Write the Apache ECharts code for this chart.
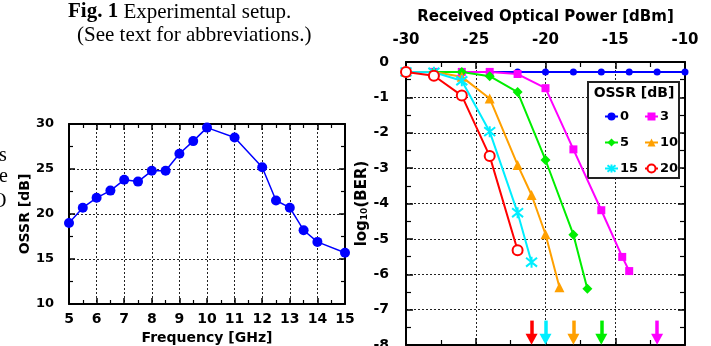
<!DOCTYPE html>
<html><head><meta charset="utf-8">
<script src="https://cdn.jsdelivr.net/npm/echarts@6/dist/echarts.min.js"></script>
<style>html,body{margin:0;padding:0;background:#fff}#c{width:711px;height:346px}</style>
</head><body><div id="c"></div>
<script>
// ---- Left chart data ----
const freqGHz = [5, 5.5, 6, 6.5, 7, 7.5, 8, 8.5, 9, 9.5, 10, 11, 12, 12.5, 13, 13.5, 14, 15];
const ossrDb  = [19.0, 20.7, 21.8, 22.6, 23.8, 23.6, 24.8, 24.8, 26.7, 28.1, 29.6, 28.5, 25.2, 21.5, 20.7, 18.2, 16.9, 15.7];
const freqTicks = [5, 6, 7, 8, 9, 10, 11, 12, 13, 14, 15];
const ossrTicks = [10, 15, 20, 25, 30];

// ---- Right chart data ----
const ossrLevels = ['0', '3', '5', '10', '15', '20'];
const power0  = [-30, -28, -26, -24, -22, -20, -18, -16, -14, -12, -10];
const ber0    = [-0.28, -0.28, -0.28, -0.28, -0.28, -0.28, -0.28, -0.28, -0.28, -0.28, -0.28];
const power3  = [-30, -28, -26, -24, -22, -20, -18, -16, -14.5, -14];
const ber3    = [-0.28, -0.28, -0.28, -0.28, -0.34, -0.74, -2.47, -4.19, -5.51, -5.91];
const power5  = [-30, -28, -26, -24, -22, -20, -18, -17];
const ber5    = [-0.28, -0.28, -0.28, -0.40, -0.85, -2.77, -4.88, -6.41];
const power10 = [-30, -28, -26, -24, -22, -21, -20, -19];
const ber10   = [-0.28, -0.28, -0.42, -1.03, -2.91, -3.76, -4.87, -6.37];
const power15 = [-30, -28, -26, -24, -22, -21];
const ber15   = [-0.28, -0.29, -0.53, -1.97, -4.26, -5.66];
const power20 = [-30, -28, -26, -24, -22];
const ber20   = [-0.28, -0.39, -0.95, -2.66, -5.32];
const powerTicks = [-30, -25, -20, -15, -10];
const berTicks = [-8, -7, -6, -5, -4, -3, -2, -1, 0];
// error-floor-free sensitivity arrows (received power, dBm) per OSSR level
const arrowLevel = ['20', '15', '10', '5', '3'];
const arrowPower = [-21, -20, -18, -16, -12];
const arrowFrom = -7.31, arrowTo = -7.84;

const SANS = 'DejaVu Sans';
const colors = {'0':'#0000ff','3':'#ff00ff','5':'#00ee00','10':'#ffa000','15':'#00eeff','20':'#ff0000'};
const symbols = {'0':'circle','3':'rect','5':'diamond','10':'triangle','15':'path://M1,1L9,9M9,1L1,9M5,0L5,10','20':'emptyCircle'};
const symSizes = {'0':7,'3':8,'5':10,'10':10,'15':11,'20':10};
const rightData = {'0':[power0,ber0],'3':[power3,ber3],'5':[power5,ber5],'10':[power10,ber10],'15':[power15,ber15],'20':[power20,ber20]};

function zip(a, b) { return a.map((v, i) => [v, b[i]]); }

const frame = {show:true, onZero:false, lineStyle:{color:'#000', width:2}};
const gridLine = {show:true, lineStyle:{color:'#222', width:1, type:[2,2]}};

function axis(o) {
  return Object.assign({
    type:'value', axisLine: frame,
    axisTick:{show:true, inside:true, length:6, lineStyle:{color:'#000', width:1.5}},
    minorTick:{show:true, splitNumber:2, length:4, lineStyle:{color:'#000', width:1.2}},
    splitLine:{show:false}
  }, o);
}
const hidden = {show:false};

const chart = echarts.init(document.getElementById('c'), null, {renderer:'canvas'});

const series = [{
  type:'line', xAxisIndex:0, yAxisIndex:0, data: zip(freqGHz, ossrDb),
  symbol:'circle', symbolSize:10, color:'#0000ff',
  lineStyle:{width:1.5, color:'#0000ff'}, itemStyle:{color:'#0000ff'}
}];
ossrLevels.forEach(k => {
  const c = colors[k];
  const s = {
    name:k, type:'line', xAxisIndex:2, yAxisIndex:2,
    data: zip(rightData[k][0], rightData[k][1]),
    symbol: symbols[k], symbolSize: symSizes[k],
    lineStyle:{width:2, color:c},
    itemStyle:{color: c, borderColor: c, borderWidth: (k==='15'||k==='20') ? 2 : 0}
  };
  const idx = arrowLevel.indexOf(k);
  if (idx >= 0) {
    s.markLine = {
      silent:true, animation:false, symbol:['none','triangle'], symbolSize:[12,11],
      label:{show:false}, lineStyle:{color:c, width:3.5, type:'solid'},
      data:[[{coord:[arrowPower[idx], arrowFrom]}, {coord:[arrowPower[idx], arrowTo]}]]
    };
  }
  series.push(s);
});

const legendCommon = {
  orient:'vertical', itemWidth:13, itemHeight:10, itemGap:13,
  textStyle:{fontFamily:SANS, fontWeight:'bold', fontSize:13, color:'#000', padding:[0,0,0,-3]},
  z:6
};

chart.setOption({
  animation:false,
  backgroundColor:'#fff',
  grid:[
    {left:69, top:124, right:366, bottom:42, outerBoundsMode:'none', containLabel:false},
    {left:406, top:62, right:26, bottom:1, outerBoundsMode:'none', containLabel:false}
  ],
  xAxis:[
    axis({gridIndex:0, position:'bottom', min:freqTicks[0], max:freqTicks[freqTicks.length-1], interval:1,
      splitLine: gridLine,
      axisLabel:{margin:8, fontFamily:SANS, fontWeight:'bold', fontSize:14, color:'#000'},
      name:'Frequency [GHz]', nameLocation:'middle', nameGap:27,
      nameTextStyle:{fontFamily:SANS, fontWeight:'bold', fontSize:14, color:'#000'}}),
    axis({gridIndex:0, position:'top', min:freqTicks[0], max:freqTicks[freqTicks.length-1], interval:1, axisLabel:hidden}),
    axis({gridIndex:1, position:'top', min:powerTicks[0], max:powerTicks[powerTicks.length-1], interval:5,
      splitLine: gridLine,
      axisTick:{show:true, inside:true, length:7, lineStyle:{color:'#000', width:1.5}},
      minorTick:{show:true, splitNumber:2, length:5, lineStyle:{color:'#000', width:1.2}},
      axisLabel:{margin:14, fontFamily:SANS, fontWeight:'bold', fontSize:15, color:'#000'},
      name:'Received Optical Power [dBm]', nameLocation:'middle', nameGap:37,
      nameTextStyle:{fontFamily:SANS, fontWeight:'bold', fontSize:15, color:'#000'}}),
    axis({gridIndex:1, position:'bottom', min:powerTicks[0], max:powerTicks[powerTicks.length-1], interval:5,
      axisTick:{show:true, inside:true, length:7, lineStyle:{color:'#000', width:1.5}},
      minorTick:{show:true, splitNumber:2, length:5, lineStyle:{color:'#000', width:1.2}},
      axisLabel:hidden})
  ],
  yAxis:[
    axis({gridIndex:0, position:'left', min:ossrTicks[0], max:ossrTicks[ossrTicks.length-1], interval:5,
      splitLine: gridLine,
      axisLabel:{margin:15, fontFamily:SANS, fontWeight:'bold', fontSize:13, color:'#000'},
      name:'OSSR [dB]', nameLocation:'middle', nameGap:37, nameRotate:90,
      nameTextStyle:{fontFamily:SANS, fontWeight:'bold', fontSize:14, color:'#000'}}),
    axis({gridIndex:0, position:'right', min:ossrTicks[0], max:ossrTicks[ossrTicks.length-1], interval:5, axisLabel:hidden}),
    axis({gridIndex:1, position:'left', min:berTicks[0], max:berTicks[berTicks.length-1], interval:1,
      splitLine: gridLine,
      axisTick:{show:true, inside:true, length:7, lineStyle:{color:'#000', width:1.5}},
      minorTick:{show:true, splitNumber:2, length:5, lineStyle:{color:'#000', width:1.2}},
      axisLabel:{margin:17, fontFamily:SANS, fontWeight:'bold', fontSize:14, color:'#000'},
      name:'{a|log}{s|10}{a|(BER)}', nameLocation:'middle', nameGap:36, nameRotate:90,
      nameTextStyle:{fontFamily:SANS, fontWeight:'bold', fontSize:15, color:'#000',
        rich:{a:{fontFamily:SANS, fontWeight:'bold', fontSize:15, color:'#000'},
              s:{fontFamily:SANS, fontWeight:'bold', fontSize:9, color:'#000', verticalAlign:'bottom', padding:[6,0,0,0]}}}}),
    axis({gridIndex:1, position:'right', min:berTicks[0], max:berTicks[berTicks.length-1], interval:1,
      axisTick:{show:true, inside:true, length:7, lineStyle:{color:'#000', width:1.5}},
      minorTick:{show:true, splitNumber:2, length:5, lineStyle:{color:'#000', width:1.2}},
      axisLabel:hidden})
  ],
  legend:[
    Object.assign({left:599, top:105, data:['0','5','15']}, legendCommon),
    Object.assign({left:639, top:105, data:['3','10','20']}, legendCommon)
  ],
  graphic:[
    {type:'rect', z:3, shape:{x:588, y:82, width:91, height:96},
     style:{fill:'#fff', stroke:'#222', lineWidth:2}},
    {type:'text', z:7, x:634, y:93,
     style:{text:'OSSR [dB]', fontFamily:SANS, fontWeight:'bold', fontSize:14, fill:'#000', align:'center', verticalAlign:'middle'}},
    {type:'text', z:7, x:68, y:12,
     style:{text:'{b|Fig. 1} Experimental setup.', fontFamily:'Liberation Serif', fontSize:21, fill:'#000', align:'left', verticalAlign:'middle',
       rich:{b:{fontFamily:'Liberation Serif', fontSize:21, fontWeight:'bold', fill:'#000'}}}},
    {type:'text', z:7, x:77, y:35,
     style:{text:'(See text for abbreviations.)', fontFamily:'Liberation Serif', fontSize:21, fill:'#000', align:'left', verticalAlign:'middle'}},
    {type:'text', z:7, x:-1, y:156, style:{text:'s', fontFamily:'Liberation Serif', fontSize:20, fill:'#000', verticalAlign:'middle'}},
    {type:'text', z:7, x:-1, y:177, style:{text:'e', fontFamily:'Liberation Serif', fontSize:20, fill:'#000', verticalAlign:'middle'}},
    {type:'text', z:7, x:-8, y:202, style:{text:'O', fontFamily:'Liberation Serif', fontSize:20, fill:'#000', verticalAlign:'middle'}}
  ],
  series: series
});
</script>
</body></html>
